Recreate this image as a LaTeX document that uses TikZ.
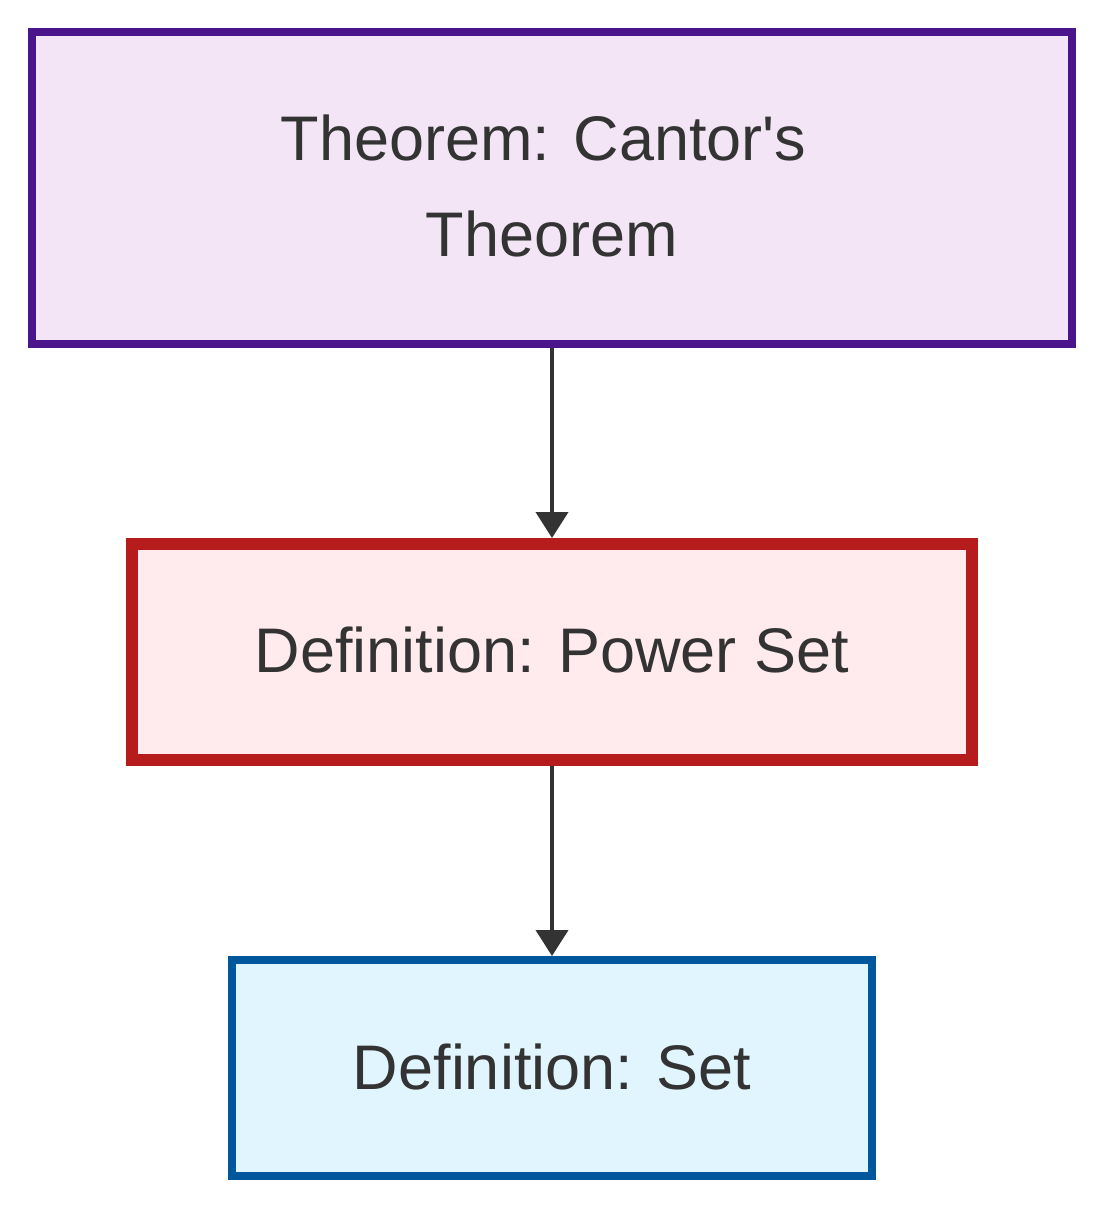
\documentclass[tikz,border=0pt]{standalone}
\usepackage{fontspec}
\setmainfont{Liberation Sans}
\usetikzlibrary{arrows.meta}
\definecolor{txt}{HTML}{333333}
\definecolor{thmfill}{HTML}{F3E5F5}
\definecolor{thmdraw}{HTML}{4A148C}
\definecolor{psfill}{HTML}{FFEBEE}
\definecolor{psdraw}{HTML}{B71C1C}
\definecolor{setfill}{HTML}{E1F5FE}
\definecolor{setdraw}{HTML}{01579B}
\tikzset{
  box/.style={rectangle, inner sep=0pt, outer sep=0pt, text=txt, align=center,
    font=\fontsize{63}{96}\selectfont},
  conn/.style={draw=txt, line width=4pt, -{Triangle[width=32pt,length=26pt]}}
}
\begin{document}
\begin{tikzpicture}[x=1pt,y=-1pt]
\useasboundingbox (0,0) rectangle (1104,1208);
\node[box, fill=thmfill, draw=thmdraw, line width=8pt, minimum width=1040pt, minimum height=312pt] (thm) at (552,188) {};
\node[box] (thmtext) at (552,186) {Theorem: Cantor\textquotesingle s\kern17pt\\Theorem};
\node[box, fill=psfill, draw=psdraw, line width=12pt, minimum width=840pt, minimum height=216pt] (ps) at (552,652) {};
\node[box] (pstext) at (552,650) {Definition: Power Set};
\node[box, fill=setfill, draw=setdraw, line width=8pt, minimum width=640pt, minimum height=216pt] (set) at (552,1068) {};
\node[box] (settext) at (552,1067) {Definition: Set};
\draw[conn] ([yshift=-4pt]thm.south) -- ([yshift=6pt]ps.north);
\draw[conn] ([yshift=-6pt]ps.south) -- ([yshift=4pt]set.north);
\end{tikzpicture}
\end{document}
